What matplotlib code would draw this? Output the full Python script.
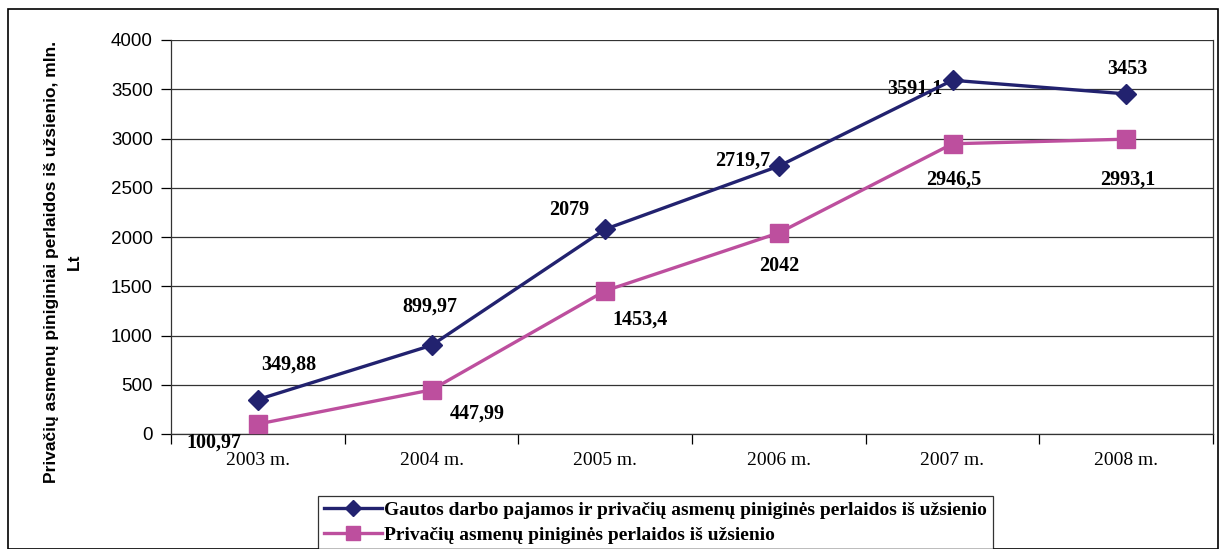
import numpy as np
import matplotlib
matplotlib.use("Agg")
import matplotlib.pyplot as plt
from matplotlib.patches import Rectangle

# data
years = ['2003 m.', '2004 m.', '2005 m.', '2006 m.', '2007 m.', '2008 m.']
total_income = [349.88, 899.97, 2079, 2719.7, 3591.1, 3453]
remittances = [100.97, 447.99, 1453.4, 2042, 2946.5, 2993.1]
total_labels = ['349,88', '899,97', '2079', '2719,7', '3591,1', '3453']
remit_labels = ['100,97', '447,99', '1453,4', '2042', '2946,5', '2993,1']

# label offsets in points (dx, dy)
total_offsets = [(22, 25), (-1, 28), (-26, 14), (-26, 4), (-27, -6), (1, 18)]
remit_offsets = [(-32, -13), (33, -17), (25, -21), (0, -24), (1, -26), (1, -29)]

navy = '#22226f'
pink = '#bd4f9e'
serif = 'Liberation Serif'
sans = 'Liberation Sans'

fig = plt.figure(figsize=(12.24, 5.49), dpi=100)
ax = fig.add_axes([171 / 1224, 1 - 434 / 549, (1213 - 171) / 1224, (434 - 40) / 549])

x = np.arange(len(years))
ax.plot(x, total_income, color=navy, lw=2.4, marker='D', ms=10,
        label='Gautos darbo pajamos ir privačių asmenų piniginės perlaidos iš užsienio', zorder=4)
ax.plot(x, remittances, color=pink, lw=2.4, marker='s', ms=13,
        label='Privačių asmenų piniginės perlaidos iš užsienio', zorder=4)

for xi, yi, txt, off in zip(x, total_income, total_labels, total_offsets):
    ax.annotate(txt, (xi, yi), xytext=off, textcoords='offset points',
                ha='center', va='center', fontsize=14.5, fontweight='bold', family=serif)
for xi, yi, txt, off in zip(x, remittances, remit_labels, remit_offsets):
    ax.annotate(txt, (xi, yi), xytext=off, textcoords='offset points',
                ha='center', va='center', fontsize=14.5, fontweight='bold', family=serif)

ax.set_xlim(-0.5, len(years) - 0.5)
ax.set_ylim(0, 4000)
ax.set_yticks(np.arange(0, 4001, 500))
ax.yaxis.grid(True, color='#333333', lw=0.9)
ax.set_axisbelow(True)

# category labels at centres, tick marks at boundaries
ax.set_xticks(np.arange(-0.5, len(years)), labels=[''] * (len(years) + 1))
ax.set_xticks(x, labels=years, minor=True)
ax.tick_params(axis='x', which='major', direction='out', length=7, width=0.9)
ax.tick_params(axis='x', which='minor', length=0, pad=13, labelsize=14)
ax.tick_params(axis='y', direction='out', length=7, width=0.9, labelsize=13.5, pad=6)
for lab in ax.get_xticklabels(minor=True):
    lab.set_family(serif)
for lab in ax.get_yticklabels():
    lab.set_family(sans)

for side in ['left', 'bottom', 'right']:
    ax.spines[side].set_color('#333333')
    ax.spines[side].set_linewidth(0.9)
ax.spines['top'].set_visible(False)

fig.text(63 / 1224, 1 - 262 / 549,
         'Privačių asmenų piniginiai perlaidos iš užsienio, mln.\nLt',
         rotation=90, ha='center', va='center', multialignment='center',
         fontsize=12.5, fontweight='bold', family=sans, linespacing=1.6)

leg = fig.legend(loc='upper left', bbox_to_anchor=(308 / 1224, 1 - 486 / 549),
                 frameon=True, fancybox=False, edgecolor='black', handlelength=3.0,
                 handletextpad=0.1, borderpad=0.3, labelspacing=0.35, markerscale=0.8,
                 prop={'family': serif, 'weight': 'bold', 'size': 14})
leg.get_frame().set_linewidth(0.9)

# outer chart border
fig.patches.append(Rectangle((8 / 1224, 0), 1210 / 1224, 1 - 9 / 549,
                             transform=fig.transFigure, fill=False,
                             edgecolor='black', lw=1.2))

fig.savefig('out.png', dpi=100, facecolor='white')
